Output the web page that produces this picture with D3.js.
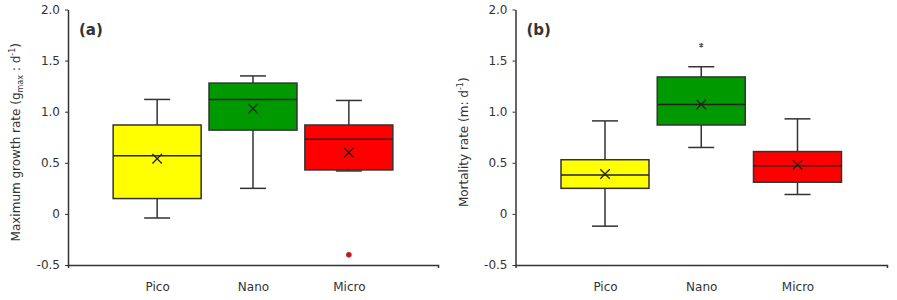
<!DOCTYPE html>
<html>
<head>
<meta charset="utf-8">
<script src="https://cdn.jsdelivr.net/npm/d3@7"></script>
<style>
	body { margin: 0; background: #fff; }
	text { font-family: "DejaVu Sans", sans-serif; fill: #333; }
</style>
</head>
<body>
<svg id="chart" width="897" height="300"></svg>
<script>
// Categories and colours
var categories = ["Pico", "Nano", "Micro"];
var boxColors = ["#ffff00", "#009900", "#ff0000"];
var yTicks = [-0.5, 0, 0.5, 1.0, 1.5, 2.0];
var yTickLabels = ["-0.5", "0", "0.5", "1.0", "1.5", "2.0"];

// (a) Maximum growth rate: [whiskerLow, q1, median, q3, whiskerHigh, mean]
var growthStats = [
	[-0.04, 0.15, 0.57, 0.87, 1.12, 0.54],
	[0.25, 0.82, 1.12, 1.28, 1.35, 1.03],
	[0.42, 0.43, 0.73, 0.87, 1.11, 0.60]
];
var growthOutliers = [{cat: "Micro", value: -0.40}];

// (b) Mortality rate
var mortalityStats = [
	[-0.12, 0.25, 0.38, 0.53, 0.91, 0.39],
	[0.65, 0.87, 1.07, 1.34, 1.44, 1.07],
	[0.19, 0.31, 0.47, 0.61, 0.93, 0.48]
];
var mortalityOutliers = [{cat: "Nano", value: 1.65}];

var svg = d3.select("#chart");

// Draw one box plot panel
function drawPanel(x0, x1, stats, outliers, outlierType, letter, yTitle) {
	let top = 9.5, bottom = 265;
	let y = d3.scaleLinear().domain([-0.5, 2.0]).range([bottom, top]);
	let x = d3.scalePoint().domain(categories).range([x0, x1]).padding(0.93);
	let boxW = 88, capW = 26;
	let g = svg.append("g");

	// y axis
	let yAxis = d3.axisLeft(y)
		.tickValues(yTicks)
		.tickFormat((d, i) => yTickLabels[i])
		.tickSize(3)
		.tickSizeOuter(0)
		.tickPadding(5);
	g.append("g")
		.attr("transform", "translate(" + x0 + ",0)")
		.call(yAxis)
		.call(a => a.select(".domain").attr("stroke", "#333").attr("stroke-width", 1.5))
		.call(a => a.selectAll("line").attr("stroke", "#333"))
		.call(a => a.selectAll("text").style("font-size", "12px").attr("fill", "#333"));

	// x axis
	let xAxis = d3.axisBottom(x).tickSize(0).tickSizeOuter(3).tickPadding(17);
	g.append("g")
		.attr("transform", "translate(0," + bottom + ")")
		.call(xAxis)
		.call(a => a.select(".domain").attr("stroke", "#333").attr("stroke-width", 1.5))
		.call(a => a.selectAll("text").style("font-size", "12px").attr("fill", "#333"));

	// boxes
	stats.forEach(function(s, i) {
		let cx = x(categories[i]);
		g.append("line")
			.attr("x1", cx).attr("x2", cx)
			.attr("y1", y(s[0])).attr("y2", y(s[4]))
			.attr("stroke", "#333").attr("stroke-width", 1.5);
		[s[0], s[4]].forEach(function(v) {
			g.append("line")
				.attr("x1", cx - capW / 2).attr("x2", cx + capW / 2)
				.attr("y1", y(v)).attr("y2", y(v))
				.attr("stroke", "#333").attr("stroke-width", 1.5);
		});
		g.append("rect")
			.attr("x", cx - boxW / 2)
			.attr("y", y(s[3]))
			.attr("width", boxW)
			.attr("height", y(s[1]) - y(s[3]))
			.attr("fill", boxColors[i])
			.attr("stroke", "#333").attr("stroke-width", 1.5);
		g.append("line")
			.attr("x1", cx - boxW / 2).attr("x2", cx + boxW / 2)
			.attr("y1", y(s[2])).attr("y2", y(s[2]))
			.attr("stroke", "#222").attr("stroke-width", 1.5);
		// mean marker
		g.append("path")
			.attr("d", d3.symbol(d3.symbolTimes, 60)())
			.attr("transform", "translate(" + cx + "," + y(s[5]) + ")")
			.attr("fill", "none")
			.attr("stroke", "#222").attr("stroke-width", 1.3);
	});

	// outliers
	outliers.forEach(function(o) {
		if (outlierType == "dot") {
			g.append("circle")
				.attr("cx", x(o.cat)).attr("cy", y(o.value))
				.attr("r", 2.5)
				.attr("fill", "#ff0000")
				.attr("stroke", "#555").attr("stroke-width", 0.8);
		} else {
			g.append("path")
				.attr("d", d3.symbol(d3.symbolAsterisk, 14)())
				.attr("transform", "translate(" + x(o.cat) + "," + y(o.value) + ")")
				.attr("fill", "none")
				.attr("stroke", "#555").attr("stroke-width", 1.2);
		}
	});

	// panel letter
	g.append("text")
		.attr("x", x0 + 11)
		.attr("y", 35)
		.style("font-size", "15px")
		.style("font-weight", "bold")
		.attr("fill", "#111")
		.text(letter);

	// y title
	let t = g.append("text")
		.attr("transform", "translate(" + (x0 - 48) + "," + ((top + bottom) / 2 + 5) + ") rotate(-90)")
		.attr("text-anchor", "middle")
		.style("font-size", "12px");
	yTitle(t);
}

drawPanel(68, 438, growthStats, growthOutliers, "dot", "(a)", function(t) {
	t.append("tspan").text("Maximum growth rate (g");
	t.append("tspan").attr("dy", 3).style("font-size", "8px").text("max");
	t.append("tspan").attr("dy", -3).text(" : d");
	t.append("tspan").attr("dy", -5).style("font-size", "8px").text("-1");
	t.append("tspan").attr("dy", 5).text(")");
});

drawPanel(515.5, 887, mortalityStats, mortalityOutliers, "star", "(b)", function(t) {
	t.append("tspan").text("Mortality rate (m: d");
	t.append("tspan").attr("dy", -5).style("font-size", "8px").text("-1");
	t.append("tspan").attr("dy", 5).text(")");
});
</script>
</body>
</html>
